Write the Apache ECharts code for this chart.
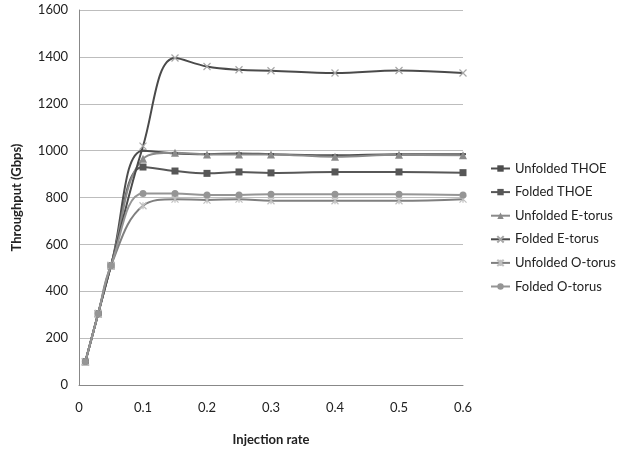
<!DOCTYPE html>
<html>
<head>
<meta charset="utf-8">
<script src="https://cdn.jsdelivr.net/npm/echarts@6/dist/echarts.min.js"></script>
<style>html,body{margin:0;padding:0;background:#fff}#c{width:618px;height:451px}</style>
</head>
<body>
<div id="c"></div>
<script>
const injectionRates = [0.01, 0.03, 0.05, 0.1, 0.15, 0.2, 0.25, 0.3, 0.4, 0.5, 0.6];
const unfoldedTHOE   = [100, 305, 510, 1000, 988, 985, 988, 985, 980, 985, 985];
const foldedTHOE     = [100, 305, 510, 930, 913, 903, 909, 905, 909, 909, 906];
const unfoldedEtorus = [100, 305, 510, 965, 991, 984, 984, 984, 974, 982, 980];
const foldedEtorus   = [100, 305, 510, 1019, 1395, 1359, 1345, 1341, 1331, 1342, 1331];
const unfoldedOtorus = [100, 305, 510, 765, 793, 789, 793, 786, 786, 786, 793];
const foldedOtorus   = [100, 305, 510, 817, 817, 811, 811, 814, 814, 814, 811];
const seriesNames = ['Unfolded THOE','Folded THOE','Unfolded E-torus','Folded E-torus','Unfolded O-torus','Folded O-torus'];
const xTicks = ['0','0.1','0.2','0.3','0.4','0.5','0.6'];

const pairs = v => injectionRates.map((x,i)=>[x, v[i]]);
const font = 'Lato, "Open Sans", sans-serif';
const X = 'path://M0,0L10,10M10,0L0,10';
const AST = 'path://M0,0L10,10M10,0L0,10M5,0L5,10';
const DASH = 'path://M0,4L10,4L10,6L0,6Z';

const styles = [
  {color:'#4d4d4d', symbol:DASH, size:[6,2], mcolor:'#4d4d4d'},
  {color:'#575757', symbol:'rect', size:7, mcolor:'#575757'},
  {color:'#8a8a8a', symbol:'triangle', size:8, mcolor:'#8a8a8a'},
  {color:'#4a4a4a', symbol:X, size:7, mcolor:'#a6a6a6', stroke:true},
  {color:'#7f7f7f', symbol:AST, size:7, mcolor:'#c0c0c0', stroke:true},
  {color:'#959595', symbol:'circle', size:7, mcolor:'#959595'}
];
const datas = [unfoldedTHOE, foldedTHOE, unfoldedEtorus, foldedEtorus, unfoldedOtorus, foldedOtorus];

const series = datas.map((d,i)=>{
  const s = styles[i];
  return {
    name: seriesNames[i], type:'line', data: pairs(d), smooth:0.4,
    symbol: s.symbol, symbolSize: s.size, symbolKeepAspect:false,
    lineStyle:{color:s.color, width:2},
    itemStyle: s.stroke ? {color:'none', borderColor:s.mcolor, borderWidth:1.2} : {color:s.mcolor, borderWidth:0},
    emphasis:{disabled:true}
  };
});

const chart = echarts.init(document.getElementById('c'), null, {renderer:'canvas'});
chart.setOption({
  animation:false,
  backgroundColor:'#fff',
  grid:{left:79, right:155, top:10, bottom:64, containLabel:false},
  legend:{
    orient:'vertical', left:485, top:157, itemWidth:19, itemHeight:8, itemGap:10.6,
    textStyle:{fontFamily:font, fontSize:13, color:'#222'},
    data: seriesNames.map((n,i)=>({name:n}))
  },
  xAxis:{
    type:'value', min:0, max:0.6, interval:0.1,
    name:'Injection rate', nameLocation:'middle', nameGap:48,
    nameTextStyle:{fontFamily:font, fontSize:13, fontWeight:'bold', color:'#222'},
    axisLine:{lineStyle:{color:'#888', width:1}},
    axisTick:{show:false},
    splitLine:{show:false},
    axisLabel:{fontFamily:font, fontSize:13, color:'#222', margin:16,
      formatter:(v)=>{const i=Math.round(v*10); return xTicks[i]!==undefined?xTicks[i]:'';}}
  },
  yAxis:{
    type:'value', min:0, max:1600, interval:200,
    name:'Throughput (Gbps)', nameLocation:'middle', nameGap:56, nameRotate:90,
    nameTextStyle:{fontFamily:font, fontSize:13, fontWeight:'bold', color:'#222'},
    axisLine:{show:true, lineStyle:{color:'#888', width:1}},
    axisTick:{show:false},
    splitLine:{lineStyle:{color:'#bdbdbd', width:1}},
    axisLabel:{fontFamily:font, fontSize:13, color:'#222', margin:11, formatter:(v)=>String(v)}
  },
  series
});
</script>
</body>
</html>
